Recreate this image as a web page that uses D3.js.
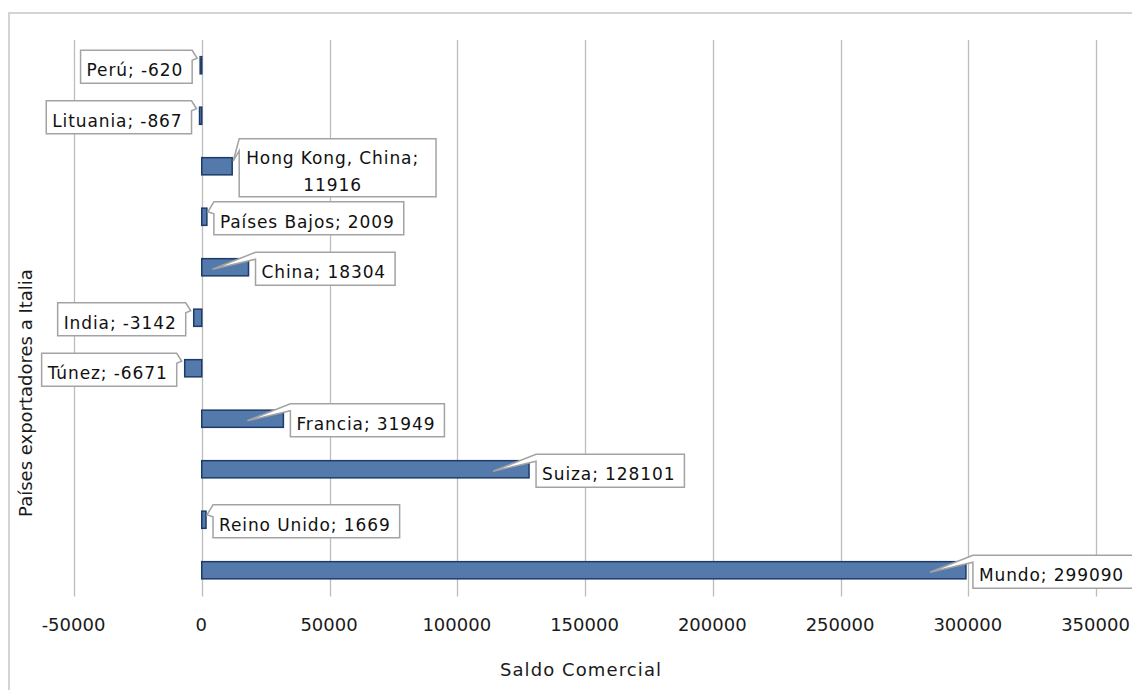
<!DOCTYPE html>
<html>
<head>
<meta charset="utf-8">
<script src="https://cdn.jsdelivr.net/npm/d3@7"></script>
<style>
  html, body { margin: 0; padding: 0; background: #fff; overflow: hidden; }
  svg { display: block; }
</style>
</head>
<body>
<svg id="chart" width="1132" height="690"></svg>
<script>
const categories = ["Perú", "Lituania", "Hong Kong, China", "Países Bajos", "China", "India", "Túnez", "Francia", "Suiza", "Reino Unido", "Mundo"];
const values = [-620, -867, 11916, 2009, 18304, -3142, -6671, 31949, 128101, 1669, 299090];
const tickValues = [-50000, 0, 50000, 100000, 150000, 200000, 250000, 300000, 350000];
const xTitle = "Saldo Comercial";
const yTitle = "Países exportadores a Italia";

const data = categories.map((c, i) => ({ cat: c, val: values[i] }));

const svg = d3.select("#chart");
const plot = { left: 74, right: 1096, top: 40, bottom: 595.5 };

const x = d3.scaleLinear().domain([-50000, 350000]).range([plot.left, plot.right]);
const y = d3.scaleBand().domain(categories).range([plot.top, plot.bottom])
  .paddingInner(0.66).paddingOuter(0.33);

// outer frame
svg.append("rect")
  .attr("x", 9).attr("y", 13).attr("width", 1200).attr("height", 800)
  .attr("fill", "none").attr("stroke", "#d4d4d4").attr("stroke-width", 2);

// gridlines
svg.append("g").selectAll("line").data(tickValues).join("line")
  .attr("x1", d => Math.round(x(d)) + 0.5).attr("x2", d => Math.round(x(d)) + 0.5)
  .attr("y1", plot.top).attr("y2", plot.bottom + 1)
  .attr("stroke", "#bdbdbd").attr("stroke-width", 1.3);

// x axis tick labels
const xAxis = d3.axisBottom(x).tickValues(tickValues).tickSize(0).tickPadding(0)
  .tickFormat(d => String(d));
const gx = svg.append("g").attr("transform", `translate(-1, 617)`).call(xAxis);
gx.select(".domain").remove();
gx.selectAll("text")
  .attr("font-family", "DejaVu Sans, Verdana, sans-serif")
  .attr("font-size", 18).attr("fill", "#1a1a1a").attr("dy", "0.78em");

// axis titles
svg.append("text")
  .attr("x", (plot.left + plot.right) / 2 - 4).attr("y", 676)
  .attr("text-anchor", "middle")
  .attr("font-family", "DejaVu Sans, Verdana, sans-serif")
  .attr("font-size", 18).attr("letter-spacing", 1.1).attr("fill", "#1a1a1a")
  .text(xTitle);

svg.append("text")
  .attr("transform", "translate(32, 393) rotate(-90)")
  .attr("text-anchor", "middle")
  .attr("font-family", "DejaVu Sans, Verdana, sans-serif")
  .attr("font-size", 18).attr("fill", "#1a1a1a")
  .text(yTitle);

// bars
svg.append("g").selectAll("rect").data(data).join("rect")
  .attr("x", d => x(Math.min(0, d.val)))
  .attr("y", d => y(d.cat))
  .attr("width", d => Math.max(1.5, Math.abs(x(d.val) - x(0))))
  .attr("height", y.bandwidth())
  .attr("fill", "#5479ab")
  .attr("stroke", "#1d3b68").attr("stroke-width", 1.5);

// callout labels
const lg = svg.append("g");
data.forEach(d => {
  const cy = y(d.cat) + y.bandwidth() / 2;
  const lines = d.cat.includes(",") ? [d.cat + ";", String(d.val)] : [d.cat + "; " + d.val];
  const g = lg.append("g");
  const path = g.append("path");
  const texts = lines.map(t => g.append("text")
    .attr("font-family", "DejaVu Sans, Verdana, sans-serif")
    .attr("font-size", 17).attr("letter-spacing", 0.9).attr("fill", "#111")
    .text(t));
  const widths = texts.map(t => t.node().getComputedTextLength());
  const tw = d3.max(widths);
  const bw = tw + (lines.length > 1 ? 24 : 15);
  const bh = lines.length > 1 ? 58 : 33;
  const top = cy + 1.5 - bh / 2;
  const bottom = top + bh;
  let left, right, p;
  const xv = x(d.val), x0 = x(0);
  if (d.val >= 0) {
    left = xv + 7; right = left + bw;
    let tip, base;
    if (xv - x0 > 40) { tip = [xv - 36, cy + 2]; base = 7; }
    else { tip = [xv + 1, cy - 5]; base = 12; }
    p = `M${left},${top} H${right} V${bottom} H${left} V${top + base} L${tip[0]},${tip[1]} Z`;
  } else {
    right = xv - 8; left = right - bw;
    const tip = [xv - 3, cy - 7];
    p = `M${left},${top} H${right} L${tip[0]},${tip[1]} L${right},${top + 10} V${bottom} H${left} Z`;
  }
  path.attr("d", p).attr("fill", "#fff").attr("stroke", "#a3a3a3").attr("stroke-width", 1.5);
  texts.forEach((t, i) => {
    if (lines.length > 1) {
      t.attr("x", left + (bw - 10) / 2).attr("text-anchor", "middle")
        .attr("y", top + 25 + i * 27);
    } else {
      t.attr("x", left + 6).attr("y", top + 26);
    }
  });
});
</script>
</body>
</html>
